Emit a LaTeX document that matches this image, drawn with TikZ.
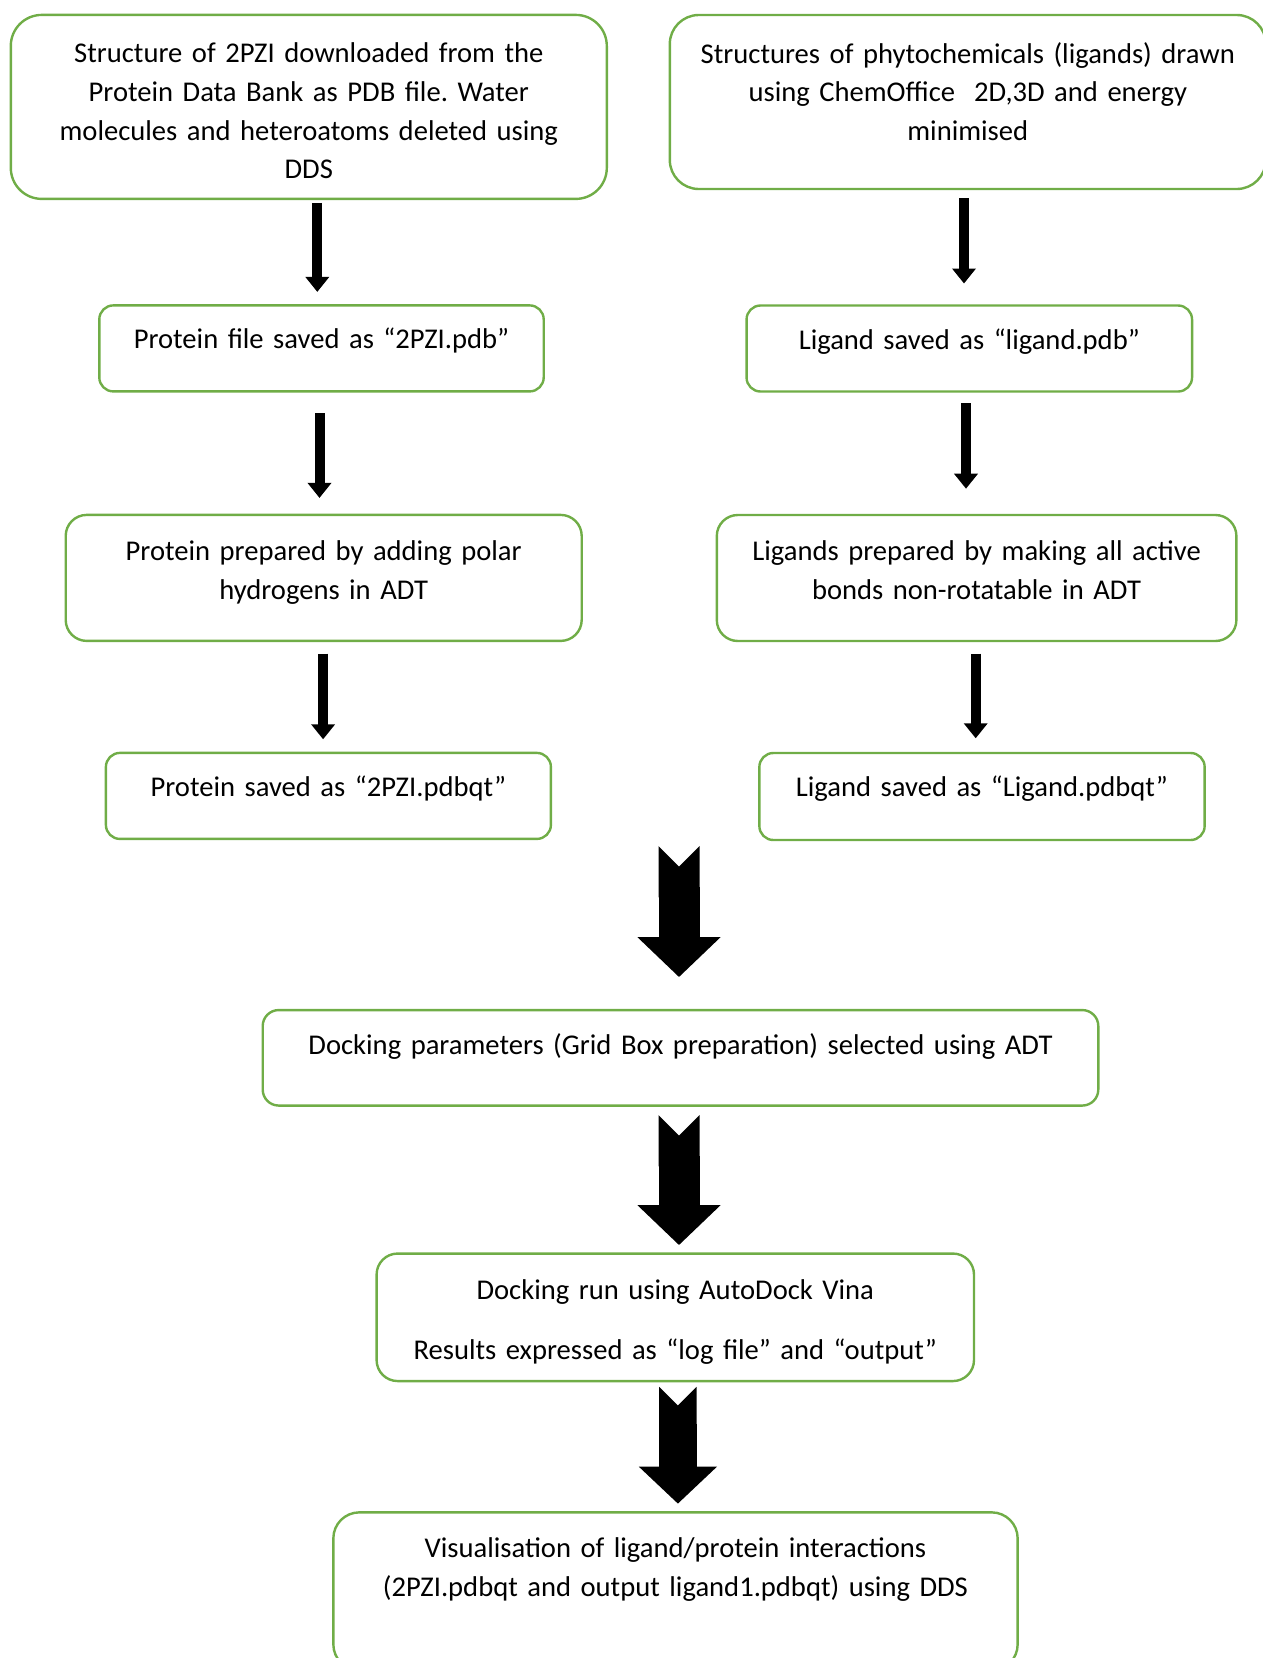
\documentclass[tikz,border=0pt]{standalone}
\usepackage{fontspec}
\setmainfont{Carlito}
\usetikzlibrary{positioning,arrows.meta}
\definecolor{boxgreen}{RGB}{112,173,71}
\newcommand{\bodyfont}{\fontsize{28.6}{38.6}\selectfont\frenchspacing}

\begin{document}
\begin{tikzpicture}[x=1pt, y=1pt,
  main/.style = {draw=boxgreen, line width=2.4pt, outer sep=0pt, align=center, inner xsep=10pt, inner ysep=17pt, text height=28.5pt, font=\bodyfont},
  arr/.style = {line width=10pt, -{Triangle[width=23pt,length=15pt]}},
  bigarr/.style = {line width=41pt, {Triangle Cap[reversed]}-{Triangle[width=81pt,length=40pt]}}]
\useasboundingbox (0,0) rectangle (1262,-1658);
% left column: protein
\node[main, text width=576pt, text height=31pt, text depth=119pt, rounded corners=31pt] (b1) at (308.8,-106.9) {Structure of 2PZI downloaded from the\\Protein Data Bank as PDB file. Water\\molecules and heteroatoms deleted using\\DDS};
\node[main, text width=424.4pt, text height=26.5pt, text depth=25.5pt, rounded corners=14pt] (b3) [below=106.5pt of b1, xshift=12.7pt] {Protein file saved as “2PZI.pdb”};
\node[main, text width=496pt, text depth=63.5pt, rounded corners=21pt] (b5) [below=123.5pt of b3, xshift=2.2pt] {Protein prepared by adding polar\\hydrogens in ADT};
\node[main, text width=425pt, text height=26.5pt, text depth=25.5pt, rounded corners=14pt] (b7) [below=112pt of b5, xshift=4.7pt] {Protein saved as “2PZI.pdbqt”};
% right column: ligands
\node[main, text width=576pt, text height=31pt, text depth=109pt, rounded corners=29pt] (b2) [right=63pt of b1, yshift=4.9pt] {Structures of phytochemicals (ligands) drawn\\using ChemOffice~ 2D,3D and energy\\minimised};
\node[main, text width=425.5pt, text height=26.5pt, text depth=25.5pt, rounded corners=14pt] (b4) [below=116.5pt of b2, xshift=1.5pt] {Ligand saved as “ligand.pdb”};
\node[main, text width=499.6pt, text depth=63.5pt, rounded corners=21pt] (b6) [below=123.5pt of b4, xshift=7.3pt] {Ligands prepared by making all active\\bonds non-rotatable in ADT};
\node[main, text width=425.3pt, text height=26.5pt, text depth=26.5pt, rounded corners=14pt] (b8) [below=112pt of b6, xshift=5.4pt] {Ligand saved as “Ligand.pdbqt”};
% docking
\node[main, text width=815.6pt, text height=27pt, text depth=34.5pt, rounded corners=16pt] (b9) at (680.5,-1057.8) {Docking parameters (Grid Box preparation) selected using ADT};
\node[main, text width=577.4pt, text depth=65pt, rounded corners=21pt] (b10) [below=148pt of b9, xshift=-5.2pt] {Docking run using AutoDock Vina\\[21.7pt]Results expressed as “log file” and “output”};
\node[main, text width=664.3pt, text depth=95.5pt, rounded corners=26pt] (b11) [below=131.3pt of b10, xshift=0.2pt] {Visualisation of ligand/protein interactions\\(2PZI.pdbqt and output ligand1.pdbqt) using DDS};

\draw[arr, shorten <=4pt, shorten >=13.5pt] ([xshift=-4.2pt]b3.north |- b1.south) -- ([xshift=-4.2pt]b3.north);
\draw[arr, shorten <=22pt, shorten >=17pt] ([xshift=-4.2pt]b5.north |- b3.south) -- ([xshift=-4.2pt]b5.north);
\draw[arr, shorten <=12.7pt, shorten >=13.6pt] ([xshift=-5.3pt]b7.north |- b5.south) -- ([xshift=-5.3pt]b7.north);
\draw[arr, shorten <=9pt, shorten >=22pt] ([xshift=-5.3pt]b4.north |- b2.south) -- ([xshift=-5.3pt]b4.north);
\draw[arr, shorten <=11.5pt, shorten >=26.3pt] ([xshift=-10.6pt]b6.north |- b4.south) -- ([xshift=-10.6pt]b6.north);
\draw[arr, shorten <=12.7pt, shorten >=14.7pt] ([xshift=-6.3pt]b8.north |- b6.south) -- ([xshift=-6.3pt]b8.north);

\draw[bigarr, shorten <=6pt, shorten >=33pt] ([xshift=-1.5pt]b9.north |- b8.south) -- ([xshift=-1.5pt]b9.north);
\draw[bigarr, shorten <=9.5pt, shorten >=8.5pt] ([xshift=-1.5pt]b9.south) -- ([xshift=-1.5pt]b9.south |- b10.north);
\draw[bigarr, line width=37.4pt, {Triangle Cap[reversed]}-{Triangle[width=76pt,length=37pt]}, shorten <=5.7pt, shorten >=8.7pt] ([xshift=2.6pt]b10.south) -- ([xshift=2.6pt]b10.south |- b11.north);
\end{tikzpicture}
\end{document}
